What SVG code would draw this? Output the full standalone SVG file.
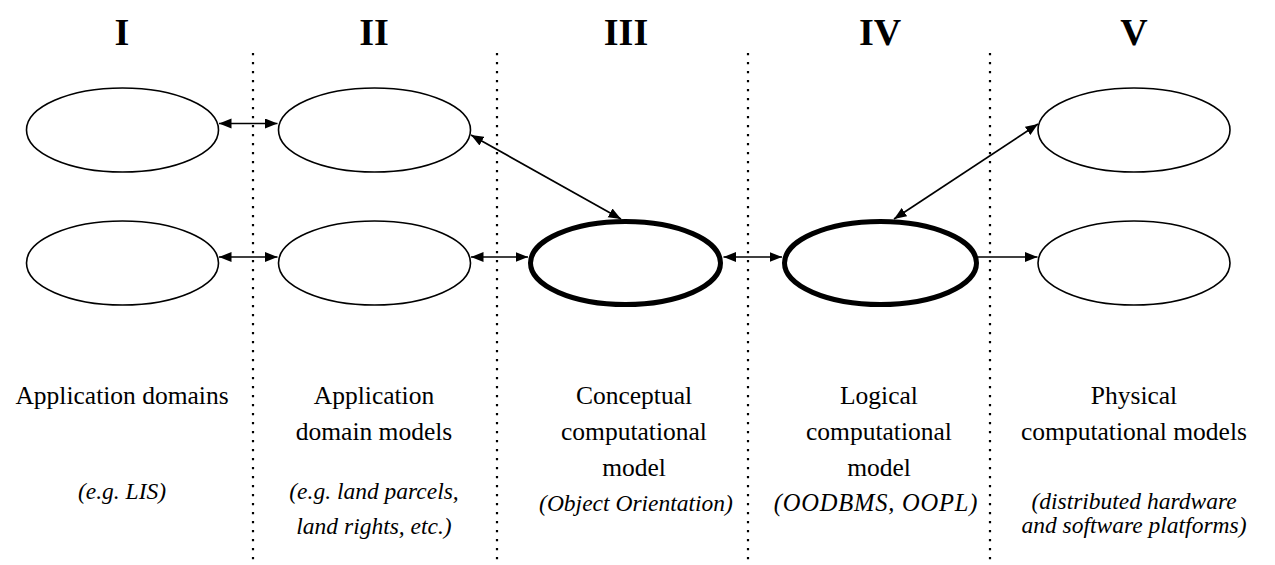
<svg xmlns="http://www.w3.org/2000/svg" width="1275" height="565" viewBox="0 0 1275 565">
  <style>
    .hdr { font-family: "Liberation Serif", "Times New Roman", serif; font-weight: bold; font-size: 38px; text-anchor: middle; fill: #000; }
    .lbl { font-family: "Liberation Serif", "Times New Roman", serif; font-size: 25.5px; text-anchor: middle; fill: #000; }
    .note { font-family: "Liberation Serif", "Times New Roman", serif; font-style: italic; font-size: 23.5px; text-anchor: middle; fill: #000; }
    .wide { font-size: 24.5px; letter-spacing: 0.8px; }
    .node { fill: #fff; stroke: #000; stroke-width: 1.6; }
    .node-bold { fill: #fff; stroke: #000; stroke-width: 5; }
    .divider { stroke: #000; stroke-width: 2.2; stroke-dasharray: 2.2 6.8; fill: none; }
    .link { stroke: #000; stroke-width: 1.7; fill: none; }
    .both { marker-start: url(#head); marker-end: url(#head); }
    .one { marker-end: url(#head); }
  </style>
  <defs>
    <marker id="head" markerUnits="userSpaceOnUse" markerWidth="14" markerHeight="11" refX="12.5" refY="5" orient="auto-start-reverse">
      <path d="M0,0 L12.5,5 L0,10 z" fill="#000"/>
    </marker>
  </defs>

  <rect width="1275" height="565" fill="#fff"/>

  <!-- column dividers -->
  <g id="dividers">
    <line class="divider" x1="253" y1="53" x2="253" y2="565"/>
    <line class="divider" x1="497" y1="53" x2="497" y2="565"/>
    <line class="divider" x1="748" y1="53" x2="748" y2="565"/>
    <line class="divider" x1="990" y1="53" x2="990" y2="565"/>
  </g>

  <!-- column headings -->
  <g id="headings">
    <text class="hdr" x="122" y="45">I</text>
    <text class="hdr" x="374" y="45">II</text>
    <text class="hdr" x="626" y="45">III</text>
    <text class="hdr" x="880" y="45">IV</text>
    <text class="hdr" x="1134" y="45">V</text>
  </g>

  <!-- nodes -->
  <g id="n-I-top"><ellipse class="node" cx="122.5" cy="130" rx="96" ry="42"/></g>
  <g id="n-I-bottom"><ellipse class="node" cx="122.5" cy="263" rx="96" ry="42"/></g>
  <g id="n-II-top"><ellipse class="node" cx="374.5" cy="130" rx="96" ry="42"/></g>
  <g id="n-II-bottom"><ellipse class="node" cx="374.5" cy="263" rx="96" ry="42"/></g>
  <g id="n-III"><ellipse class="node-bold" cx="625.5" cy="263" rx="95" ry="41.5"/></g>
  <g id="n-IV"><ellipse class="node-bold" cx="880.5" cy="263" rx="96" ry="41.5"/></g>
  <g id="n-V-top"><ellipse class="node" cx="1134" cy="130" rx="96" ry="42"/></g>
  <g id="n-V-bottom"><ellipse class="node" cx="1134" cy="263" rx="96" ry="42"/></g>

  <!-- connectors -->
  <g id="connectors">
    <line class="link both" x1="219" y1="123.5" x2="277.5" y2="123.5"/>
    <line class="link both" x1="219" y1="257" x2="277.5" y2="257"/>
    <line class="link both" x1="471" y1="257" x2="528" y2="257"/>
    <line class="link both" x1="723.5" y1="257" x2="782" y2="257"/>
    <line class="link one" x1="978" y1="257" x2="1037.5" y2="257"/>
    <line class="link both" x1="471" y1="135" x2="621" y2="219"/>
    <line class="link both" x1="894" y1="219" x2="1038" y2="124"/>
  </g>

  <!-- column captions -->
  <g id="captions">
    <text class="lbl" x="122" y="404">Application domains</text>
    <text class="note" x="122" y="499">(e.g. LIS)</text>

    <text class="lbl" x="374" y="404">Application</text>
    <text class="lbl" x="374" y="440">domain models</text>
    <text class="note" x="374" y="499">(e.g. land parcels,</text>
    <text class="note" x="374" y="534">land rights, etc.)</text>

    <text class="lbl" x="634" y="404">Conceptual</text>
    <text class="lbl" x="634" y="440">computational</text>
    <text class="lbl" x="634" y="476">model</text>
    <text class="note" x="636" y="511">(Object Orientation)</text>

    <text class="lbl" x="879" y="404">Logical</text>
    <text class="lbl" x="879" y="440">computational</text>
    <text class="lbl" x="879" y="476">model</text>
    <text class="note wide" x="876" y="511">(OODBMS, OOPL)</text>

    <text class="lbl" x="1134" y="404">Physical</text>
    <text class="lbl" x="1134" y="440">computational models</text>
    <text class="note" x="1134" y="509">(distributed hardware</text>
    <text class="note" x="1134" y="533">and software platforms)</text>
  </g>
</svg>
